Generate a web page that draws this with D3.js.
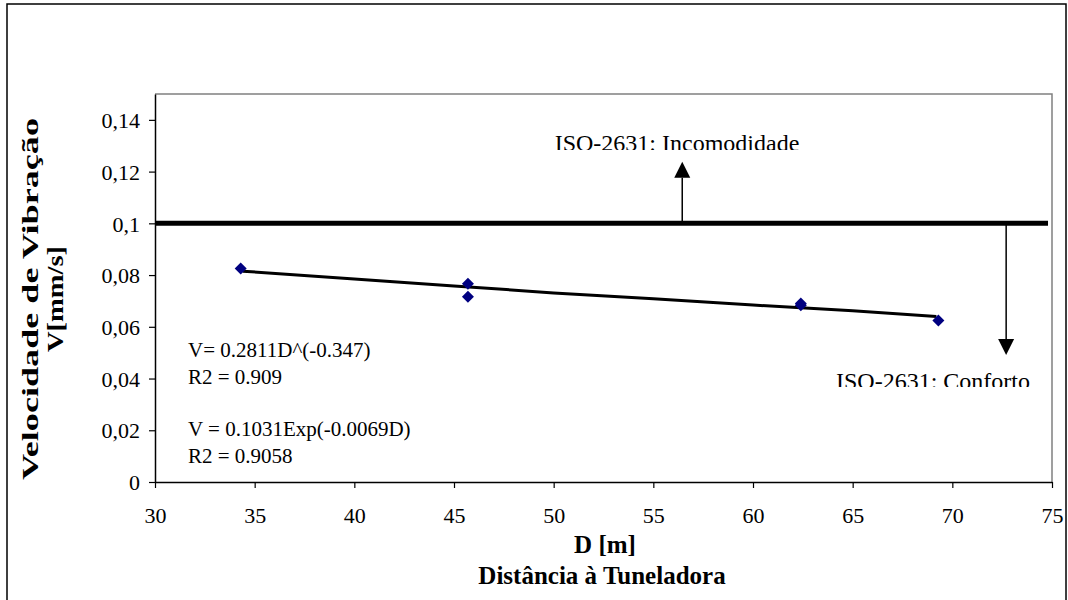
<!DOCTYPE html>
<html>
<head>
<meta charset="utf-8">
<script src="https://cdn.jsdelivr.net/npm/d3@7"></script>
<style>
  html, body { margin: 0; padding: 0; background: #fff; }
  svg text { font-family: "Liberation Serif", "Times New Roman", serif; }
</style>
</head>
<body>
<svg id="chart" width="1068" height="600"></svg>
<script>
// ---- data ----
const distance = [34.3, 45.7, 45.7, 62.4, 62.4, 69.3];
const velocity = [0.0825, 0.0766, 0.0716, 0.0690, 0.0683, 0.0624];

const trendD = [34.4, 40, 45, 50, 55, 60, 65, 69.2];
const trendV = [0.0815, 0.0785, 0.0758, 0.0731, 0.0708, 0.0684, 0.0662, 0.0640];

const limitValue = 0.1;
const limitRange = [30, 74.8];

const xTicks = [30, 35, 40, 45, 50, 55, 60, 65, 70, 75];
const xTickLabels = ["30", "35", "40", "45", "50", "55", "60", "65", "70", "75"];
const yTicks = [0, 0.02, 0.04, 0.06, 0.08, 0.1, 0.12, 0.14];
const yTickLabels = ["0", "0,02", "0,04", "0,06", "0,08", "0,1", "0,12", "0,14"];

const xTitle1 = "D [m]";
const xTitle2 = "Distância à Tuneladora";
const yTitle1 = "Velocidade de Vibração";
const yTitle2 = "V[mm/s]";
const powerEq = ["V= 0.2811D^(-0.347)", "R2 = 0.909"];
const expEq = ["V = 0.1031Exp(-0.0069D)", "R2 = 0.9058"];
const upLabel = "ISO-2631: Incomodidade";
const downLabel = "ISO-2631: Conforto";
const upArrow = { d: 56.45, from: 0.1, to: 0.1238 };
const downArrow = { d: 72.7, from: 0.1, to: 0.0491 };

// ---- layout ----
const svg = d3.select("#chart");
const L = 155, R = 1052, T = 94, B = 482;
const x = d3.scaleLinear().domain([30, 75]).range([L, R]);
const y = d3.scaleLinear().domain([0, 0.15]).range([B, T]);

// outer border
svg.append("rect").attr("x", 7).attr("y", 4).attr("width", 1059).attr("height", 610)
  .attr("fill", "none").attr("stroke", "#000").attr("stroke-width", 1.5);

// plot frame (gray top/right)
svg.append("path")
  .attr("d", `M${L},${T}H${R}V${B}`)
  .attr("fill", "none").attr("stroke", "#808080").attr("stroke-width", 1.5);

// axes
const xAxis = d3.axisBottom(x).tickValues(xTicks).tickSize(6).tickSizeOuter(0)
  .tickFormat((d, i) => xTickLabels[i]);
const gx = svg.append("g").attr("transform", `translate(0,${B})`).call(xAxis);
gx.select(".domain").attr("stroke", "#000").attr("stroke-width", 1.5);
gx.selectAll(".tick line").attr("stroke", "#000").attr("stroke-width", 1.2);
gx.selectAll(".tick text").attr("font-size", 22)
  .attr("fill", "#000").attr("dy", null).attr("y", 41);

const yAxis = d3.axisLeft(y).tickValues(yTicks).tickSize(6).tickSizeOuter(0)
  .tickFormat((d, i) => yTickLabels[i]);
const gy = svg.append("g").attr("transform", `translate(${L},0)`).call(yAxis);
gy.select(".domain").attr("stroke", "#000").attr("stroke-width", 1.5);
gy.selectAll(".tick line").attr("stroke", "#000").attr("stroke-width", 1.2);
gy.selectAll(".tick text").attr("font-size", 22)
  .attr("fill", "#000").attr("x", -15).attr("dy", "0.35em");

// limit line
svg.append("line")
  .attr("x1", x(limitRange[0])).attr("x2", x(limitRange[1]))
  .attr("y1", y(limitValue)).attr("y2", y(limitValue))
  .attr("stroke", "#000").attr("stroke-width", 5);

// arrows
function arrow(a) {
  const dir = a.to > a.from ? 1 : -1;
  const tipY = y(a.to);
  const headLen = 16, headHalf = 8;
  const baseY = tipY + dir * headLen;
  const xx = x(a.d);
  svg.append("line").attr("x1", xx).attr("x2", xx)
    .attr("y1", y(a.from)).attr("y2", baseY)
    .attr("stroke", "#000").attr("stroke-width", 1.5);
  svg.append("path")
    .attr("d", `M${xx},${tipY}L${xx - headHalf},${baseY}L${xx + headHalf},${baseY}Z`)
    .attr("fill", "#000");
}
arrow(upArrow);
arrow(downArrow);

// clipped labels
const defs = svg.append("defs");
defs.append("clipPath").attr("id", "clipUp").append("rect")
  .attr("x", 500).attr("y", 120).attr("width", 360).attr("height", 30);
defs.append("clipPath").attr("id", "clipDown").append("rect")
  .attr("x", 800).attr("y", 360).attr("width", 250).attr("height", 27);

svg.append("text").attr("clip-path", "url(#clipUp)")
  .attr("x", 677).attr("y", 151).attr("text-anchor", "middle")
  .attr("font-size", 24).attr("fill", "#000").text(upLabel);
svg.append("text").attr("clip-path", "url(#clipDown)")
  .attr("x", 933).attr("y", 389).attr("text-anchor", "middle")
  .attr("font-size", 24).attr("fill", "#000").text(downLabel);

// equations
function eqBlock(lines, y0) {
  lines.forEach((t, i) => {
    svg.append("text").attr("x", 188).attr("y", y0 + i * 27)
      .attr("font-size", 21).attr("fill", "#000").text(t);
  });
}
eqBlock(powerEq, 357);
eqBlock(expEq, 436);

// trend line
const line = d3.line().x((d, i) => x(trendD[i])).y((d, i) => y(trendV[i]));
svg.append("path").datum(trendD).attr("d", line)
  .attr("fill", "none").attr("stroke", "#000").attr("stroke-width", 3);

// points (diamonds)
const diamond = d3.symbol().type(d3.symbolSquare).size(72);
svg.append("g").selectAll("path").data(distance).join("path")
  .attr("d", diamond)
  .attr("transform", (d, i) => `translate(${x(d)},${y(velocity[i])}) rotate(45)`)
  .attr("fill", "#000080");

// axis titles
svg.append("text").attr("x", 605).attr("y", 553).attr("text-anchor", "middle")
  .attr("font-size", 25).attr("font-weight", "bold").attr("fill", "#000").text(xTitle1);
svg.append("text").attr("x", 602).attr("y", 584).attr("text-anchor", "middle")
  .attr("font-size", 25).attr("font-weight", "bold").attr("fill", "#000").text(xTitle2);

svg.append("text").attr("transform", "translate(38,299) rotate(-90)").attr("text-anchor", "middle")
  .attr("font-size", 23).attr("font-weight", "bold").attr("fill", "#000")
  .attr("textLength", 362).attr("lengthAdjust", "spacingAndGlyphs").text(yTitle1);
svg.append("text").attr("transform", "translate(63,299) rotate(-90)").attr("text-anchor", "middle")
  .attr("font-size", 23).attr("font-weight", "bold").attr("fill", "#000")
  .attr("textLength", 106).attr("lengthAdjust", "spacingAndGlyphs").text(yTitle2);
</script>
</body>
</html>
